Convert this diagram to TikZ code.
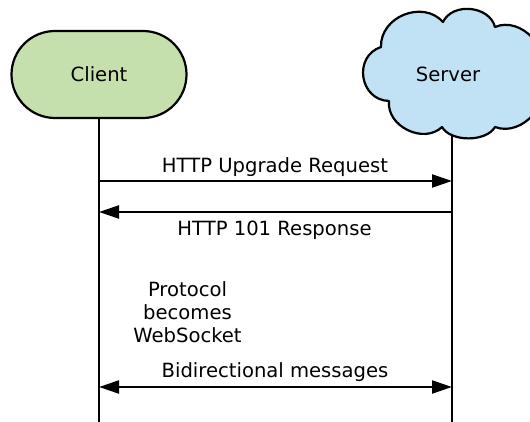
\documentclass[tikz,border=0pt]{standalone}
\usepackage{fontspec}
\setmainfont{DejaVu Sans}
\usetikzlibrary{shapes.misc,arrows.meta}

\definecolor{clientfill}{RGB}{197,224,172}
\definecolor{serverfill}{RGB}{193,225,244}

\begin{document}
\begin{tikzpicture}[x=1pt,y=1pt,
  every node/.style={font=\fontsize{19.6}{23}\selectfont},
  outline/.style={draw=black,line width=2.2pt,line join=round},
  life/.style={line width=2pt},
  msg/.style={line width=2.2pt,-{Triangle[length=20pt,width=13pt]}},
  both/.style={line width=2.2pt,{Triangle[length=20pt,width=13pt]}-{Triangle[length=20pt,width=13pt]}},
  lbl/.style={anchor=base,inner sep=0pt}]
\useasboundingbox (0,0) rectangle (530,422);

% client: a stadium
\node[rounded rectangle, outline, fill=clientfill, minimum width=175pt,
      minimum height=87pt, inner sep=0pt] (client) at (99,347.5) {Client};

% server: a cloud built from seven puffs
\path[outline, fill=serverfill]
  (443,400) to[bend right=70,looseness=1.16] (381,375)
            to[bend right=80,looseness=1.39] (389,321)
            to[bend right=70,looseness=1.1]  (442,295)
            to[bend right=60,looseness=0.85] (495,295)
            to[bend right=70,looseness=1.1]  (540,347)
            to[bend right=70,looseness=1.1]  (495,395)
            to[bend right=70,looseness=1.08] (443,400) -- cycle;
\node[lbl] (server) at (448,340) {Server};

% lifelines
\coordinate (stop) at (452,287);
\coordinate (cend) at (99,0);
\coordinate (send) at (452,0);
\draw[life] (client.south) -- (cend);
\draw[life] (stop) -- (send);

% message endpoints on the lifelines
\coordinate (c1) at (99,241);  \coordinate (s1) at (452,241);
\coordinate (c2) at (99,210);  \coordinate (s2) at (452,210);
\coordinate (c3) at (99,35);   \coordinate (s3) at (452,35);

\draw[msg]  (c1) -- (s1);
\draw[msg]  (s2) -- (c2);
\draw[both] (c3) -- (s3);

\node[lbl] (m1) at (275,249) {HTTP Upgrade Request};
\node[lbl] (m2) at (274.5,186) {HTTP 101 Response};
\node[lbl, align=center] (note) at (187.5,79) {Protocol\\becomes\\WebSocket};
\node[lbl] (m3) at (275,44) {Bidirectional messages};
\end{tikzpicture}
\end{document}
